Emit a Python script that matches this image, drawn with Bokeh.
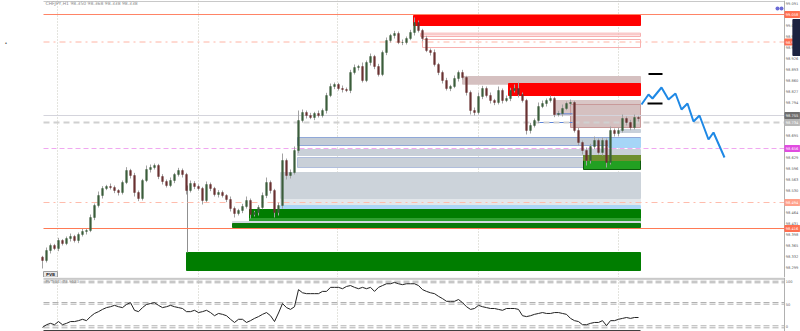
from bokeh.plotting import figure
from bokeh.models import Range1d, ColumnDataSource
from bokeh.layouts import column
from bokeh.embed import file_html
from bokeh.resources import INLINE
from bokeh.core.properties import value

# ---------------- data ----------------
symbol_text = "CHFJPY,H1  98.350 98.368 98.338 98.338"
indicator_text = "PVT(14) 73.9123"
first_open = 98.330
closes = [
    98.320, 98.350, 98.365, 98.356, 98.380, 98.371, 98.386, 98.392, 98.380, 98.398,
    98.407, 98.410, 98.449, 98.485, 98.515, 98.536, 98.542, 98.539, 98.530, 98.524,
    98.554, 98.590, 98.575, 98.524, 98.506, 98.560, 98.593, 98.599, 98.605, 98.572,
    98.557, 98.545, 98.560, 98.578, 98.590, 98.578, 98.530, 98.551, 98.542, 98.536,
    98.500, 98.548, 98.536, 98.518, 98.524, 98.515, 98.503, 98.476, 98.461, 98.470,
    98.482, 98.500, 98.458, 98.464, 98.479, 98.515, 98.554, 98.530, 98.464, 98.485,
    98.620, 98.575, 98.584, 98.650, 98.740, 98.764, 98.755, 98.749, 98.761, 98.755,
    98.770, 98.815, 98.842, 98.848, 98.836, 98.833, 98.830, 98.884, 98.899, 98.902,
    98.860, 98.914, 98.932, 98.902, 98.878, 98.944, 98.980, 98.995, 99.001, 98.974,
    98.974, 98.986, 99.004, 99.034, 99.010, 98.986, 98.950, 98.944, 98.908, 98.884,
    98.860, 98.836, 98.842, 98.866, 98.884, 98.869, 98.824, 98.770, 98.764, 98.812,
    98.836, 98.815, 98.800, 98.794, 98.830, 98.800, 98.806, 98.830, 98.836, 98.818,
    98.800, 98.710, 98.725, 98.740, 98.782, 98.791, 98.800, 98.806, 98.758, 98.761,
    98.776, 98.791, 98.794, 98.710, 98.674, 98.650, 98.620, 98.662, 98.680, 98.644,
    98.680, 98.614, 98.710, 98.701, 98.710, 98.746, 98.734, 98.719, 98.749, 98.746,
]
wick_up = [
    4, 9, 6, 5, 8, 4, 6, 9, 5, 6,
    8, 5, 9, 6, 12, 7, 5, 9, 6, 4,
    6, 10, 5, 8, 6, 5, 12, 9, 6, 5,
    7, 6, 9, 5, 8, 6, 5, 9, 7, 6,
    5, 9, 6, 5, 7, 6, 4, 9, 6, 5,
    8, 12, 6, 5, 7, 9, 15, 6, 5, 8,
    21, 6, 9, 12, 30, 9, 6, 8, 5, 9,
    6, 8, 9, 6, 5, 9, 6, 8, 9, 5,
    12, 6, 9, 5, 8, 6, 9, 5, 8, 6,
    9, 6, 8, 15, 6, 5, 8, 6, 9, 5,
    6, 8, 5, 9, 6, 8, 5, 6, 9, 12,
    8, 6, 9, 5, 12, 6, 9, 8, 12, 18,
    6, 5, 8, 6, 12, 9, 6, 9, 5, 8,
    12, 6, 9, 5, 8, 6, 9, 8, 12, 6,
    9, 6, 12, 6, 9, 12, 6, 8, 9, 5,
]
wick_dn = [
    24, 6, 9, 5, 8, 6, 5, 9, 6, 8,
    6, 9, 5, 8, 6, 9, 5, 6, 8, 9,
    6, 5, 9, 12, 8, 6, 5, 9, 6, 8,
    9, 6, 5, 8, 6, 9, 12, 6, 8, 6,
    12, 5, 8, 6, 9, 6, 8, 9, 12, 6,
    8, 6, 12, 6, 9, 5, 8, 9, 15, 9,
    9, 12, 9, 6, 8, 6, 9, 5, 8, 6,
    6, 9, 5, 8, 6, 9, 5, 8, 6, 9,
    6, 5, 9, 8, 6, 5, 8, 6, 9, 5,
    8, 6, 5, 9, 6, 8, 5, 9, 6, 8,
    9, 6, 8, 5, 9, 6, 9, 12, 9, 6,
    8, 6, 9, 8, 6, 9, 5, 8, 6, 9,
    6, 12, 9, 6, 8, 5, 9, 6, 8, 6,
    9, 5, 8, 6, 9, 12, 15, 9, 8, 6,
    9, 15, 6, 9, 8, 6, 9, 8, 6, 9,
]
indicator = [
    -2, 4, 7, 4, 11, 4, 7, 11, 11, 13,
    16, 13, 22, 29, 33, 38, 42, 44, 47, 44,
    42, 49, 53, 36, 33, 42, 49, 51, 53, 47,
    42, 44, 47, 44, 42, 40, 33, 33, 36, 31,
    33, 36, 31, 24, 29, 27, 24, 16, 9, 16,
    16, 9, 13, 18, 22, 27, 31, 24, 11, 30,
    51, 42, 38, 44, 82, 75, 73, 73, 73, 73,
    78, 78, 87, 87, 87, 84, 89, 91, 87, 84,
    87, 84, 87, 78, 87, 91, 95, 95, 98, 95,
    93, 95, 95, 95, 91, 82, 78, 75, 73, 67,
    62, 56, 56, 56, 60, 53, 44, 38, 40, 47,
    44, 42, 40, 40, 38, 36, 40, 40, 40, 38,
    24, 22, 24, 27, 29, 31, 29, 29, 31, 31,
    29, 27, 18, 13, 11, 4, 4, 7, 9, 9,
    13, 2, 13, 13, 16, 18, 20, 18, 20, 20,
]

# zones (bar index from/to, price top/bottom)
zone_left = [92.75, 94.5, 95.0, 105.0, 116.5, 127.75, 132.0, 63.75, 63.75, 63.75, 59.5, 59.5, 59.5,
             51.75, 51.75, 47.5, 47.5, 36.0, 141.5, 144.5, 135.25, 135.25]
zone_right = [149.5] * 22
zone_top = [99.055, 99.002, 98.983, 98.872, 98.851, 98.800, 98.788, 98.689, 98.653, 98.629, 98.584, 98.503, 98.485,
            98.473, 98.446, 98.437, 98.431, 98.344, 98.686, 98.713, 98.635, 98.635]
zone_bottom = [99.025, 98.992, 98.959, 98.849, 98.815, 98.755, 98.719, 98.665, 98.635, 98.599, 98.506, 98.488, 98.476,
               98.446, 98.437, 98.431, 98.419, 98.290, 98.659, 98.704, 98.593, 98.620]

# level lines
level_prices = [99.058, 98.9755, 98.755, 98.734, 98.656, 98.494, 98.416]
price_ticks = [99.091, 99.025, 98.992, 98.959, 98.926, 98.893, 98.860, 98.827, 98.794,
               98.695, 98.629, 98.596, 98.563, 98.530, 98.464, 98.431, 98.398,
               98.365, 98.332, 98.299]
ind_levels = [100.7, 97.1, 53.3, 49.6, 1.6, -2.9]
ind_ticks = [100, 50, 0]
grid_bars = [3.75, 39.0, 73.75, 109.0, 144.0]

# projection drawn on the right
proj_x = [149.75, 151.5, 152.5, 154.75, 156.5, 158.25, 159.75, 161.25, 162.75, 164.25, 166.5, 167.75, 170.5]
proj_y = [98.788, 98.818, 98.806, 98.839, 98.803, 98.821, 98.773, 98.791, 98.737, 98.755, 98.683, 98.704, 98.629]
mark_x0 = [151.5, 151.25]
mark_x1 = [155.0, 155.0]
mark_y = [98.8795, 98.791]
blue_x0 = [122.75, 128.5]
blue_x1 = [132.5, 132.5]
blue_y = [98.734, 98.760]

# --------------- styles ---------------
zone_fill = ["#ff0000", "#ffffff", "#ffffff", "#d5c0c0", "#ff0000", "#d9c6c6", "#d5c0c0", "#c3ccd6", "#c9d0d8",
             "#c9d0d8", "#ccd3da", "#e3e7eb", "#aad6f6", "#007d00", "#2fa02f", "#d5dbe1", "#0b7a0b", "#007d00",
             "#a6d5f7", "#c8d0da", "#22a022", "#6f8f2f"]
zone_fill_alpha = [1, 0, 0, 1, 1, 1, 1, 1, 1, 1, 1, 1, 1, 1, 1, 1, 1, 1, 1, 1, 1, 1]
zone_line = ["#ff0000", "#f7b0b0", "#f7b0b0", "#d5c0c0", "#ff0000", "#d9c6c6", "#c89a9a", "#90a8d8", "#c9d0d8",
             "#b0bedc", "#ccd3da", "#e3e7eb", "#aad6f6", "#007d00", "#2fa02f", "#d5dbe1", "#0b7a0b", "#007d00",
             "#a6d5f7", "#c8d0da", "#0c5c0c", "#6f8f2f"]
level_colors = ["#ff8466", "#ffb4a4", "#d4d4dc", "#d0d0d0", "#f0a8f0", "#ffbcac", "#ff7a55"]
level_dash = ["solid", "dashdot", "solid", "6 4", "5 3", "dashdot", "solid"]
level_width = [1.2, 1, 1, 2, 1, 1, 1.2]
tag_colors = ["#ff6f50", "#ff6f50", "#6e6e6e", "#b8b8b8", "#e04ce0", "#ffa08a", "#ff6f50"]

XR = Range1d(-10.5, 189.5)
PTOP, PBOT = 99.100, 98.269
AXIS_X = 185.5
FONT = value("DejaVu Sans")


def base_fig(h, yr):
    f = figure(width=800, height=h, x_range=XR, y_range=yr, output_backend="svg",
               toolbar_location=None, x_axis_location=None, y_axis_location=None,
               min_border=0, min_border_left=0, min_border_right=0, min_border_top=0,
               min_border_bottom=0)
    f.outline_line_color = None
    f.xgrid.visible = False
    f.ygrid.visible = False
    f.background_fill_color = "white"
    f.border_fill_color = "white"
    return f


p = base_fig(277, Range1d(PBOT, PTOP))

# vertical grid
p.segment(x0=grid_bars, x1=grid_bars, y0=[PBOT] * 5, y1=[PTOP] * 5,
          line_color="#c8c8bc", line_dash="1 2", line_width=1)

# zones
zs = ColumnDataSource(dict(l=zone_left, r=zone_right, t=zone_top, b=zone_bottom,
                           fc=zone_fill, fa=zone_fill_alpha, lc=zone_line))
p.quad(left="l", right="r", top="t", bottom="b", fill_color="fc", fill_alpha="fa",
       line_color="lc", line_width=1, source=zs)
p.segment(x0=[94.5], x1=[149.5], y0=[98.997], y1=[98.997], line_color="#f7b0b0", line_width=1)
p.segment(x0=blue_x0, x1=blue_x1, y0=blue_y, y1=blue_y, line_color="#5f86d8", line_width=1)
p.segment(x0=[36.25], x1=[36.25], y0=[98.545], y1=[98.344], line_color="#909090", line_width=1)

# level lines
for lp, lc, ld, lw in zip(level_prices, level_colors, level_dash, level_width):
    p.line(x=[0.25, AXIS_X], y=[lp, lp], line_color=lc, line_dash=ld, line_width=lw)

# candles
opens = [first_open] + closes[:-1]
xs = list(range(len(closes)))
highs = [max(o, c) + w / 1000 for o, c, w in zip(opens, closes, wick_up)]
lows = [min(o, c) - w / 1000 for o, c, w in zip(opens, closes, wick_dn)]
up = [c >= o for o, c in zip(opens, closes)]
cs = ColumnDataSource(dict(x=xs, o=opens, c=closes, h=highs, lo=lows,
                           top=[max(o, c) for o, c in zip(opens, closes)],
                           bot=[min(o, c) for o, c in zip(opens, closes)],
                           col=["#3d5e3d" if u else "#6a3232" for u in up]))
p.segment(x0="x", x1="x", y0="lo", y1="h", line_color="#a2a2a2", line_width=1, source=cs)
p.vbar(x="x", width=0.42, top="top", bottom="bot", fill_color="col", line_color="col",
       line_width=0.5, source=cs)

# projection and marks
p.line(x=proj_x, y=proj_y, line_color="#1e88e5", line_width=2)
p.segment(x0=mark_x0, x1=mark_x1, y0=mark_y, y1=mark_y, line_color="black", line_width=2)

# chart borders
p.line(x=[0.25, AXIS_X], y=[99.097, 99.097], line_color="#c8c8c8", line_width=1)
p.line(x=[AXIS_X, AXIS_X], y=[PBOT, PTOP], line_color="#b0b0b0", line_width=1)

# price scale labels
p.text(x=[AXIS_X + 0.3] * len(price_ticks), y=price_ticks, text=["%.3f" % t for t in price_ticks],
       text_font=FONT, text_font_size="3.6px", text_color="#606060", text_baseline="middle")
p.quad(left=[AXIS_X + 0.1] * len(level_prices), right=[189.3] * len(level_prices),
       top=[lp + 0.009 for lp in level_prices], bottom=[lp - 0.009 for lp in level_prices],
       fill_color=tag_colors, line_color=tag_colors)
p.text(x=[AXIS_X + 0.3] * len(level_prices), y=level_prices,
       text=["%.3f" % lp for lp in level_prices], text_font=FONT,
       text_font_size="3.6px", text_color="white", text_baseline="middle")

# navy badge and dots
p.quad(left=[187.6], right=[189.6], top=[99.043], bottom=[98.935], fill_color="#1c2340",
       line_color="#1c2340")
p.scatter(x=[183.75, 184.75], y=[99.076, 99.076], size=4, fill_color="#6b6bd6", line_color=None)

# header text
p.text(x=[0.75], y=[99.090], text=[symbol_text], text_font=FONT,
       text_font_size="4.5px", text_color="#8a8a8a", text_baseline="middle")
p.text(x=[-9.5], y=[98.974], text=["\u2022"], text_font=FONT,
       text_font_size="5px", text_color="#333333", text_baseline="middle")

# PVB button
p.quad(left=[0.25], right=[3.75], top=[98.287], bottom=[98.270], fill_color="#e8e8e8",
       line_color="#a0a0a0")
p.text(x=[2.0], y=[98.2785], text=["PVB"], text_font=FONT, text_font_size="4px",
       text_color="#333333", text_align="center", text_baseline="middle", text_font_style="bold")

# ---------------- indicator panel ----------------
IY0, IY1 = -11.1, 108.9
q = base_fig(54, Range1d(IY0, IY1))
q.segment(x0=grid_bars, x1=grid_bars, y0=[IY0] * 5, y1=[IY1] * 5,
          line_color="#c8c8bc", line_dash="1 2", line_width=1)
q.line(x=[0.25, AXIS_X], y=[107.3, 107.3], line_color="#b4b4b4", line_width=1)
q.line(x=[0.25, AXIS_X], y=[104.4, 104.4], line_color="#d0d0d0", line_width=1)
for lv in ind_levels:
    q.line(x=[0.25, AXIS_X], y=[lv, lv], line_color="#b0b0b0", line_dash="6 3", line_width=1)
q.line(x=xs, y=indicator, line_color="#222222", line_width=1)
q.line(x=[0.25, 149.5], y=[-9.6, -9.6], line_color="#404040", line_width=1.5)
q.line(x=[AXIS_X, AXIS_X], y=[IY0, IY1], line_color="#b0b0b0", line_width=1)
q.text(x=[AXIS_X + 0.3] * 3, y=ind_ticks, text=[str(t) for t in ind_ticks],
       text_font=FONT, text_font_size="3.6px", text_color="#606060", text_baseline="middle")
q.text(x=[0.75], y=[100.0], text=[indicator_text], text_font=FONT,
       text_font_size="4px", text_color="#8a8a8a", text_baseline="middle")

layout = column(p, q, spacing=0)
open("out.html", "w").write(file_html(layout, INLINE))
